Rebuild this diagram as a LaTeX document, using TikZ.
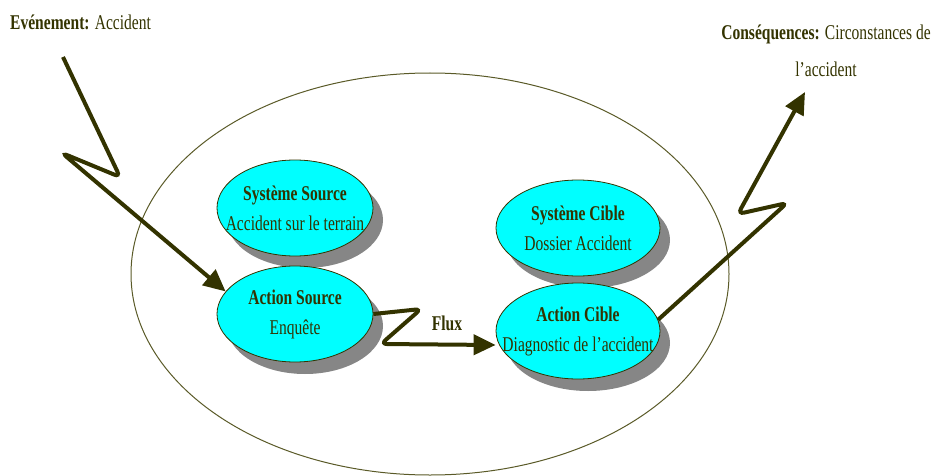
\documentclass[tikz,border=0pt]{standalone}
\usepackage{fontspec}
\setmainfont{Liberation Serif}[FakeStretch=0.74]
\usetikzlibrary{shapes.geometric,shadows,arrows.meta}

\definecolor{olive}{RGB}{51,51,0}
\definecolor{rim}{RGB}{90,90,40}
\definecolor{turquoise}{RGB}{0,255,255}

\tikzset{
  bulle/.style={ellipse, draw=olive, thick, fill=turquoise, inner sep=0pt,
    minimum width=156pt, minimum height=96pt,
    drop shadow={shadow xshift=10pt, shadow yshift=-12pt, fill=gray!95, opacity=1}},
  texte/.style={align=center, text=olive, inner sep=0pt,
    font=\fontsize{21}{30}\selectfont},
  fleche/.style={draw=olive, line width=4pt, rounded corners=6pt,
    -{Triangle[length=22pt,width=20pt]}},
  legende/.style={text=olive, font=\fontsize{21}{37}\selectfont, inner sep=0pt}
}

\begin{document}
\begin{tikzpicture}[x=1pt,y=-1pt]
\useasboundingbox (0,0) rectangle (939,476);

% grand systeme
\begin{scope}
\clip (0,0) rectangle (939,476);
\draw[rim, line width=1pt] (430,274) ellipse (299pt and 201pt);
\end{scope}

% les bulles
\node[bulle] (sysSource) at (295,208) {};
\node[texte] at (sysSource) {\textbf{Système Source}\\Accident sur le terrain};
\node[bulle] (actSource) at (295,314) {};
\node[texte] at (actSource) {\textbf{Action Source}\\Enquête};
\node[bulle, minimum width=164pt] (sysCible) at (578,228) {};
\node[texte] at (sysCible) {\textbf{Système Cible}\\Dossier Accident};
\node[bulle, minimum width=164pt] (actCible) at (578,331) {};
\node[texte] at (actCible) {\textbf{Action Cible}\\Diagnostic de l’accident};

% textes
\node[legende, anchor=west] (evenement) at (10,22) {\textbf{Evénement:} Accident};
\node[legende, align=center] (consequences) at (826,51) {\textbf{Conséquences:} Circonstances de\\l’accident};
\node[legende] (flux) at (447,323) {\textbf{Flux}};

% fleches
\coordinate (depart) at (63,57);
\coordinate (arrivee) at (805,92);

\draw[fleche] (depart) -- (120,177) -- (62,153) -- (actSource.162);
\draw[fleche] (actSource.east) -- (421,309) -- (381,344) -- (actCible.west |- 0,345);
\draw[fleche] (actCible.8) -- (787,203) -- (738,214) -- (arrivee);

\end{tikzpicture}
\end{document}
